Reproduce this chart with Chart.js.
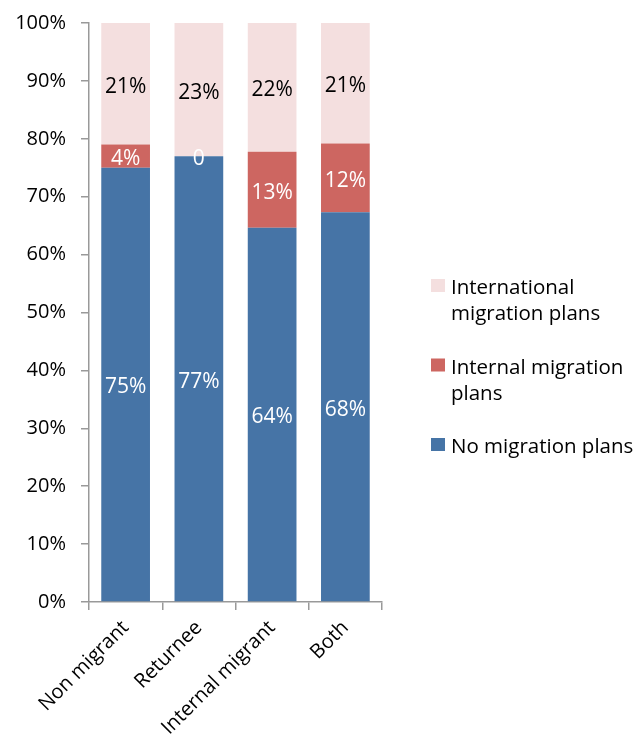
<!DOCTYPE html>
<html>
<head>
<meta charset="utf-8">
<script src="https://cdn.jsdelivr.net/npm/chart.js@4.4.1/dist/chart.umd.min.js"></script>
<style>
    html, body { margin: 0; padding: 0; background: #fff; }
    #wrap { width: 637px; height: 745px; }
</style>
</head>
<body>
<div id="wrap"><canvas id="migration-chart" width="637" height="745"></canvas></div>
<script>
// Data (shares in percent, as labelled)
const categories = ['Non migrant', 'Returnee', 'Internal migrant', 'Both'];
const noPlans = [75, 77, 64, 68];
const internalPlans = [4, 0, 13, 12];
const internationalPlans = [21, 23, 22, 21];
const yTicks = [0, 10, 20, 30, 40, 50, 60, 70, 80, 90, 100];

const seriesNames = ['No migration plans', 'Internal migration plans', 'International migration plans'];
const legendLines = [['No migration plans'], ['Internal migration', 'plans'], ['International', 'migration plans']];
const colors = ['#4674A6', '#CD6661', '#F4DFDF'];
const labelColors = ['#ffffff', '#ffffff', '#000000'];
const FONT = '"Open Sans", sans-serif';

const rawSeries = [noPlans, internalPlans, internationalPlans];

// 100% stacked: scale each category to its total
const totals = categories.map((c, i) => noPlans[i] + internalPlans[i] + internationalPlans[i]);
const shares = rawSeries.map(s => s.map((v, i) => v / totals[i] * 100));

const overlay = {
    id: 'overlay',
    afterDatasetsDraw(chart) {
        const ctx = chart.ctx;
        ctx.save();

        // Segment value labels
        ctx.font = '21px ' + FONT;
        ctx.textAlign = 'center';
        ctx.textBaseline = 'middle';
        chart.data.datasets.forEach((ds, di) => {
            const meta = chart.getDatasetMeta(di);
            meta.data.forEach((bar, i) => {
                const v = rawSeries[di][i];
                const txt = v === 0 ? '0' : v + '%';
                ctx.fillStyle = labelColors[di];
                ctx.fillText(txt, bar.x, (bar.y + bar.base) / 2 + 3);
            });
        });

        // Legend on the right, top item is the top series
        ctx.font = '20.5px ' + FONT;
        ctx.textAlign = 'left';
        ctx.textBaseline = 'alphabetic';
        const order = [2, 1, 0];
        order.forEach((di, k) => {
            const base = 294 + k * 79.5;
            ctx.fillStyle = colors[di];
            ctx.fillRect(431, base - 15, 14, 13);
            ctx.fillStyle = '#000';
            legendLines[di].forEach((line, j) => {
                ctx.fillText(line, 451, base + j * 26);
            });
        });

        ctx.restore();
    }
};

const ctx = document.getElementById('migration-chart').getContext('2d');
new Chart(ctx, {
    type: 'bar',
    data: {
        labels: categories,
        datasets: shares.map((s, di) => ({
            label: seriesNames[di],
            data: s,
            backgroundColor: colors[di],
            borderWidth: 0,
            barPercentage: 0.665,
            categoryPercentage: 1.0
        }))
    },
    options: {
        responsive: false,
        animation: false,
        layout: {
            padding: { left: 0, right: 255, top: 23, bottom: 0 }
        },
        scales: {
            x: {
                stacked: true,
                grid: {
                    display: true,
                    drawOnChartArea: false,
                    offset: true,
                    tickLength: 8,
                    color: '#999999',
                    lineWidth: 1.5
                },
                border: { color: '#999999', width: 1.5 },
                ticks: {
                    color: '#000',
                    font: { family: FONT, size: 20 },
                    minRotation: 45,
                    maxRotation: 45,
                    padding: 6
                },
                afterFit: function(scale) { scale.height = 143; }
            },
            y: {
                stacked: true,
                min: 0,
                max: 100,
                afterBuildTicks: function(scale) {
                    scale.ticks = yTicks.map(v => ({ value: v }));
                },
                grid: {
                    display: true,
                    drawOnChartArea: false,
                    tickLength: 8,
                    color: '#999999',
                    lineWidth: 1.5
                },
                border: { color: '#999999', width: 1.5 },
                ticks: {
                    color: '#000',
                    font: { family: FONT, size: 20 },
                    padding: 15,
                    callback: v => v + '%'
                },
                afterFit: function(scale) {
                    scale.width = 89;
                    scale.paddingTop = 0;
                    scale.paddingBottom = 0;
                }
            }
        },
        plugins: {
            legend: { display: false },
            tooltip: { enabled: false }
        }
    },
    plugins: [overlay]
});
</script>
</body>
</html>
